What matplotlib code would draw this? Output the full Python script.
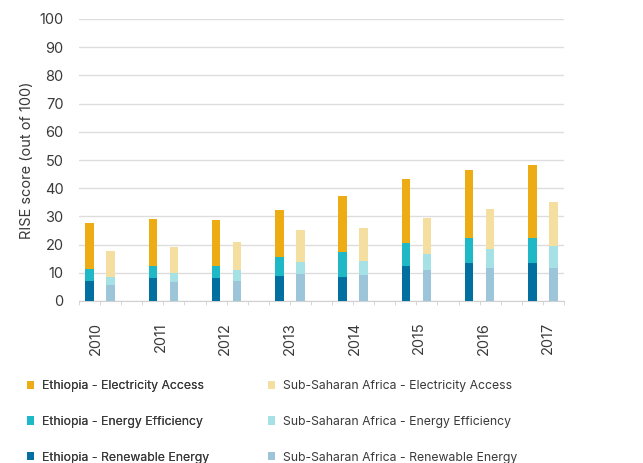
import matplotlib
matplotlib.use("Agg")
import matplotlib.pyplot as plt
import numpy as np

years = ['2010', '2011', '2012', '2013', '2014', '2015', '2016', '2017']

# stacked segments (bottom -> top)
eth_re = [7.1, 8.0, 8.0, 8.7, 8.6, 12.3, 13.6, 13.6]
eth_ee = [4.4, 4.5, 4.5, 7.0, 8.8, 8.4, 8.9, 8.9]
eth_ea = [16.3, 16.6, 16.2, 16.7, 19.7, 22.5, 24.1, 25.7]
ssa_re = [5.8, 6.8, 7.2, 9.7, 9.3, 11.1, 11.8, 11.8]
ssa_ee = [2.8, 3.1, 3.9, 4.2, 4.9, 5.7, 6.7, 7.8]
ssa_ea = [9.2, 9.4, 9.9, 11.4, 11.7, 12.7, 14.1, 15.6]

c_eth = ['#016FA0', '#1FB8C6', '#EDAB14']
c_ssa = ['#9DC5DA', '#A6E1E5', '#F5DFA0']

plt.rcParams['font.family'] = ['Inter', 'DejaVu Sans']
txt = '#3a3a3a'

fig = plt.figure(figsize=(6.43, 4.63), dpi=100)
ax = fig.add_axes([79/643, 1 - 301/463, 485/643, 282/463])

n = len(years)
idx = np.arange(n)
x_eth = idx * 3 + 0.5
x_ssa = idx * 3 + 1.5
w = 0.4

b1 = ax.bar(x_eth, eth_re, w, color=c_eth[0], label='Ethiopia - Renewable Energy', zorder=3)
b2 = ax.bar(x_eth, eth_ee, w, bottom=eth_re, color=c_eth[1], label='Ethiopia - Energy Efficiency', zorder=3)
b3 = ax.bar(x_eth, eth_ea, w, bottom=np.add(eth_re, eth_ee), color=c_eth[2], label='Ethiopia - Electricity Access', zorder=3)
s1 = ax.bar(x_ssa, ssa_re, w, color=c_ssa[0], label='Sub-Saharan Africa - Renewable Energy', zorder=3)
s2 = ax.bar(x_ssa, ssa_ee, w, bottom=ssa_re, color=c_ssa[1], label='Sub-Saharan Africa - Energy Efficiency', zorder=3)
s3 = ax.bar(x_ssa, ssa_ea, w, bottom=np.add(ssa_re, ssa_ee), color=c_ssa[2], label='Sub-Saharan Africa - Electricity Access', zorder=3)

ax.set_xlim(0, 3 * n - 1)
ax.set_ylim(0, 100)
ax.set_yticks(range(0, 101, 10))
ax.grid(axis='y', color='#dddddd', linewidth=1, zorder=0)
for s in ['top', 'right', 'left']:
    ax.spines[s].set_visible(False)
ax.spines['bottom'].set_color('#d0d0d0')
ax.tick_params(axis='y', length=0, pad=11, labelsize=10.5, labelcolor=txt)

ax.set_xticks(idx * 3.065 + 0.8)
ax.set_xticklabels(years, rotation=90, fontsize=10.5, color=txt)
ax.tick_params(axis='x', length=0, pad=15)
ax.set_xticks(np.arange(0, 3 * n), minor=True)
ax.tick_params(axis='x', which='minor', length=3, color='#d0d0d0')

ax.set_ylabel('RISE score (out of 100)', fontsize=10.5, color=txt, labelpad=4)

kw = dict(frameon=False, fontsize=8.8, labelcolor=txt, handlelength=0.6, handleheight=0.65,
          handletextpad=0.6, labelspacing=1.95, borderaxespad=0, borderpad=0)
leg1 = fig.legend([b3, b2, b1], [b3.get_label(), b2.get_label(), b1.get_label()],
                  loc='upper left', bbox_to_anchor=(27/643, 1 - 380/463), **kw)
fig.add_artist(leg1)
fig.legend([s3, s2, s1], [s3.get_label(), s2.get_label(), s1.get_label()],
           loc='upper left', bbox_to_anchor=(268/643, 1 - 380/463), **kw)

fig.savefig('out.png', dpi=100)
